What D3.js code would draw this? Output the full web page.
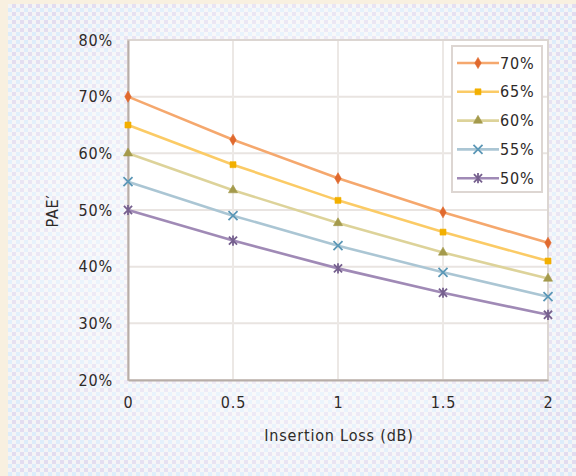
<!DOCTYPE html>
<html>
<head>
<meta charset="utf-8">
<script src="https://cdn.jsdelivr.net/npm/d3@7"></script>
<style>
  html, body { margin: 0; padding: 0; background: #f8f0e0; }
  svg { display: block; }
  text { font-family: "DejaVu Sans Condensed", "DejaVu Sans", sans-serif; fill: #2e2a28; letter-spacing: 0.8px; }
</style>
</head>
<body>
<script>
// Insertion loss (dB) on the x axis
const lossDb = [0, 0.5, 1, 1.5, 2];
// PAE after the loss, one series per starting PAE (percent)
const seriesNames = ["70%", "65%", "60%", "55%", "50%"];
const pae70 = [70, 62.4, 55.6, 49.6, 44.2];
const pae65 = [65, 58.0, 51.7, 46.1, 41.0];
const pae60 = [60, 53.5, 47.7, 42.5, 37.9];
const pae55 = [55, 49.0, 43.7, 39.0, 34.7];
const pae50 = [50, 44.6, 39.7, 35.4, 31.5];
const seriesValues = [pae70, pae65, pae60, pae55, pae50];
const yTicks = [20, 30, 40, 50, 60, 70, 80];
const xTicks = [0, 0.5, 1, 1.5, 2];
const xTitle = "Insertion Loss (dB)";
const yTitle = "PAE′";

const W = 576, H = 476;
const lineColors = ["#f5a86e", "#fbcb66", "#ddd39a", "#abc6d4", "#a08ab6"];
const markColors = ["#e0692e", "#f2b000", "#a49a4c", "#5b97b6", "#76608e"];
const markTypes = [d3.symbolDiamond, d3.symbolSquare, d3.symbolTriangle, d3.symbolX, "star"];

const svg = d3.select("body").append("svg").attr("width", W).attr("height", H);
const defs = svg.append("defs");

// dotted backdrop tile
const pat = defs.append("pattern").attr("id", "dots")
  .attr("width", 8).attr("height", 8).attr("patternUnits", "userSpaceOnUse");
pat.append("rect").attr("width", 8).attr("height", 8).attr("fill", "#f4f4f6");
pat.append("rect").attr("x", 0).attr("y", 0).attr("width", 4).attr("height", 4).attr("fill", "#dcecfa");
pat.append("rect").attr("x", 4).attr("y", 4).attr("width", 4).attr("height", 4).attr("fill", "#e2dcf0");

const haze = defs.append("radialGradient").attr("id", "haze")
  .attr("cx", "50%").attr("cy", "48%").attr("r", "62%");
haze.append("stop").attr("offset", "0%").attr("stop-color", "#fff").attr("stop-opacity", 0.75);
haze.append("stop").attr("offset", "70%").attr("stop-color", "#fff").attr("stop-opacity", 0.35);
haze.append("stop").attr("offset", "100%").attr("stop-color", "#fff").attr("stop-opacity", 0);

svg.append("rect").attr("x", 0).attr("y", 0).attr("width", W).attr("height", H).attr("fill", "#f8f0e0");
svg.append("rect").attr("x", 8).attr("y", 4).attr("width", W - 8).attr("height", H - 4).attr("fill", "url(#dots)");
svg.append("rect").attr("x", 8).attr("y", 4).attr("width", W - 8).attr("height", H - 4).attr("fill", "url(#haze)");

const plot = { left: 128, right: 548, top: 40, bottom: 380 };
const x = d3.scaleLinear().domain([0, 2]).range([plot.left, plot.right]);
const y = d3.scaleLinear().domain([20, 80]).range([plot.bottom, plot.top]);

svg.append("rect").attr("x", plot.left).attr("y", plot.top)
  .attr("width", plot.right - plot.left).attr("height", plot.bottom - plot.top)
  .attr("fill", "#ffffff");

// gridlines
svg.append("g").selectAll("line").data(yTicks).join("line")
  .attr("x1", plot.left).attr("x2", plot.right)
  .attr("y1", d => y(d)).attr("y2", d => y(d))
  .attr("stroke", "#e9e4e1").attr("stroke-width", 2);
svg.append("g").selectAll("line").data(xTicks).join("line")
  .attr("x1", d => x(d)).attr("x2", d => x(d))
  .attr("y1", plot.top).attr("y2", plot.bottom)
  .attr("stroke", "#ece8e5").attr("stroke-width", 2);

// frame: heavier left and bottom axes
svg.append("rect").attr("x", plot.left).attr("y", plot.top)
  .attr("width", plot.right - plot.left).attr("height", plot.bottom - plot.top)
  .attr("fill", "none").attr("stroke", "#dcd6d2").attr("stroke-width", 2);

const yAxis = svg.append("g").attr("transform", `translate(${plot.left},0)`)
  .call(d3.axisLeft(y).tickValues(yTicks).tickFormat(d => d + "%").tickSize(0).tickPadding(15));
const xAxis = svg.append("g").attr("transform", `translate(0,${plot.bottom})`)
  .call(d3.axisBottom(x).tickValues(xTicks).tickFormat(d3.format("")).tickSize(0).tickPadding(17));
[yAxis, xAxis].forEach(g => {
  g.select(".domain").attr("stroke", "#b8aea8").attr("stroke-width", 2);
  g.selectAll("text").attr("font-size", 16).attr("fill", "#2e2a28")
    .style("font-family", "'DejaVu Sans Condensed', 'DejaVu Sans', sans-serif");
});

svg.append("text").attr("x", (plot.left + plot.right) / 2 + 1).attr("y", 441)
  .attr("text-anchor", "middle").attr("font-size", 16).text(xTitle);
svg.append("text").attr("transform", "translate(58,211) rotate(-90)")
  .attr("text-anchor", "middle").attr("font-size", 16).text(yTitle);

function markPath(t, size) {
  if (t === "star") {
    const r = Math.sqrt(size) * 0.55;
    return `M${-r},${-r}L${r},${r}M${-r},${r}L${r},${-r}M0,${-r * 1.25}L0,${r * 1.25}`;
  }
  return d3.symbol().type(t).size(size)();
}

const line = d3.line().x((d, i) => x(lossDb[i])).y(d => y(d));
const series = svg.append("g").selectAll("g").data(seriesValues).join("g");
series.append("path").attr("d", d => line(d)).attr("fill", "none")
  .attr("stroke", (d, i) => lineColors[i]).attr("stroke-width", 2.6);
series.each(function (vals, si) {
  const open = markTypes[si] === d3.symbolX || markTypes[si] === "star";
  d3.select(this).selectAll("path.m").data(vals).join("path").attr("class", "m")
    .attr("transform", (d, i) => `translate(${x(lossDb[i])},${y(d)})`)
    .attr("d", markPath(markTypes[si], open ? 55 : 36))
    .attr("fill", open ? "none" : markColors[si])
    .attr("stroke", markColors[si]).attr("stroke-width", open ? 1.8 : 0.6);
});

// legend
const lg = svg.append("g");
lg.append("rect").attr("x", 452).attr("y", 46).attr("width", 90).attr("height", 146)
  .attr("fill", "#ffffff").attr("stroke", "#ddd6d2").attr("stroke-width", 2);
const items = lg.selectAll("g").data(seriesNames).join("g")
  .attr("transform", (d, i) => `translate(0,${63 + i * 28.8})`);
items.append("line").attr("x1", 457).attr("x2", 499).attr("y1", 0).attr("y2", 0)
  .attr("stroke", (d, i) => lineColors[i]).attr("stroke-width", 2.6);
items.append("path").attr("transform", "translate(478,0)")
  .attr("d", (d, i) => markPath(markTypes[i], (i >= 3) ? 55 : 36))
  .attr("fill", (d, i) => i >= 3 ? "none" : markColors[i])
  .attr("stroke", (d, i) => markColors[i]).attr("stroke-width", (d, i) => i >= 3 ? 1.8 : 0.6);
items.append("text").attr("x", 500).attr("y", 0).attr("dy", "0.35em")
  .attr("font-size", 16).text(d => d);
</script>
</body>
</html>
